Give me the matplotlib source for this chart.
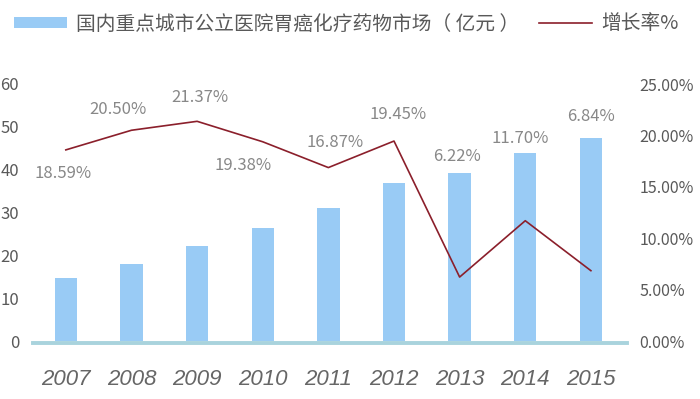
import matplotlib
matplotlib.use('Agg')
import matplotlib.pyplot as plt
import numpy as np
from matplotlib.patches import Patch
from matplotlib.lines import Line2D

plt.rcParams['font.family'] = ['Noto Sans CJK SC', 'DejaVu Sans']
plt.rcParams['font.weight'] = 'light'

# data
years = ['2007', '2008', '2009', '2010', '2011', '2012', '2013', '2014', '2015']
market = [14.7, 18.0, 22.2, 26.4, 31.1, 36.9, 39.3, 43.9, 47.3]
growth = [18.59, 20.50, 21.37, 19.38, 16.87, 19.45, 6.22, 11.70, 6.84]
growth_labels = ['18.59%', '20.50%', '21.37%', '19.38%', '16.87%',
                 '19.45%', '6.22%', '11.70%', '6.84%']
left_ticks = [0, 10, 20, 30, 40, 50, 60]
right_ticks = [0, 5, 10, 15, 20, 25]
right_tick_labels = ['0.00%', '5.00%', '10.00%', '15.00%', '20.00%', '25.00%']

bar_label = '国内重点城市公立医院胃癌化疗药物市场（ 亿元 ）'
line_label = '增长率%'

# label offsets (points) from each line point
label_offsets = [(-2, -17), (-10, 15), (2, 17), (-14, -17), (5, 18),
                 (3, 19), (-2, 87), (-4, 59), (0, 111)]

bar_color = '#99cbf5'
line_color = '#8b1f2b'
tick_color = '#595959'
label_color = '#888888'

fig = plt.figure(figsize=(7, 3.99), dpi=100)
ax = fig.add_axes([33/700, 58/399, 594/700, 257/399])
index = np.arange(len(years))

# spine first: set_position resets the ticks
for s in ['top', 'right', 'left']:
    ax.spines[s].set_visible(False)
ax.spines['bottom'].set_color('#a9d3dd')
ax.spines['bottom'].set_linewidth(2.8)
ax.spines['bottom'].set_position(('outward', 1.4))

ax.bar(index, market, 0.34, color=bar_color, zorder=2)
ax.set_xlim(-0.5, 8.55)
ax.set_ylim(0, 60)
ax.set_yticks(left_ticks)
ax.set_xticks(index)
ax.set_xticklabels(years, fontsize=16, style='italic', color='#666666',
                   family=['Liberation Sans', 'DejaVu Sans'], weight='normal')
ax.tick_params(axis='x', length=0, pad=19)
ax.tick_params(axis='y', length=0, pad=10, labelsize=12, labelcolor=tick_color)

ax2 = ax.twinx()
ax2.plot(index, growth, color=line_color, linewidth=1.2, zorder=3)
ax2.set_ylim(0, 25)
ax2.set_yticks(right_ticks)
ax2.set_yticklabels(right_tick_labels)
ax2.tick_params(axis='y', length=0, pad=9, labelsize=11.5, labelcolor=tick_color)
for s in ['top', 'right', 'left', 'bottom']:
    ax2.spines[s].set_visible(False)

for i, (g, lab) in enumerate(zip(growth, growth_labels)):
    ax2.annotate(lab, (index[i], g), xytext=label_offsets[i], textcoords='offset points',
                 ha='center', va='center', fontsize=12, color=label_color)

handles = [Patch(facecolor=bar_color, edgecolor='none'),
           Line2D([0], [0], color=line_color, linewidth=1.2)]
fig.legend(handles, [bar_label, line_label], loc='center left',
           bbox_to_anchor=(-0.006, 0.94), ncol=2, frameon=False,
           fontsize=14.2, handlelength=2.7, handleheight=0.45,
           handletextpad=0.45, columnspacing=1.0, labelcolor=tick_color)

fig.savefig('out.png', dpi=100)
